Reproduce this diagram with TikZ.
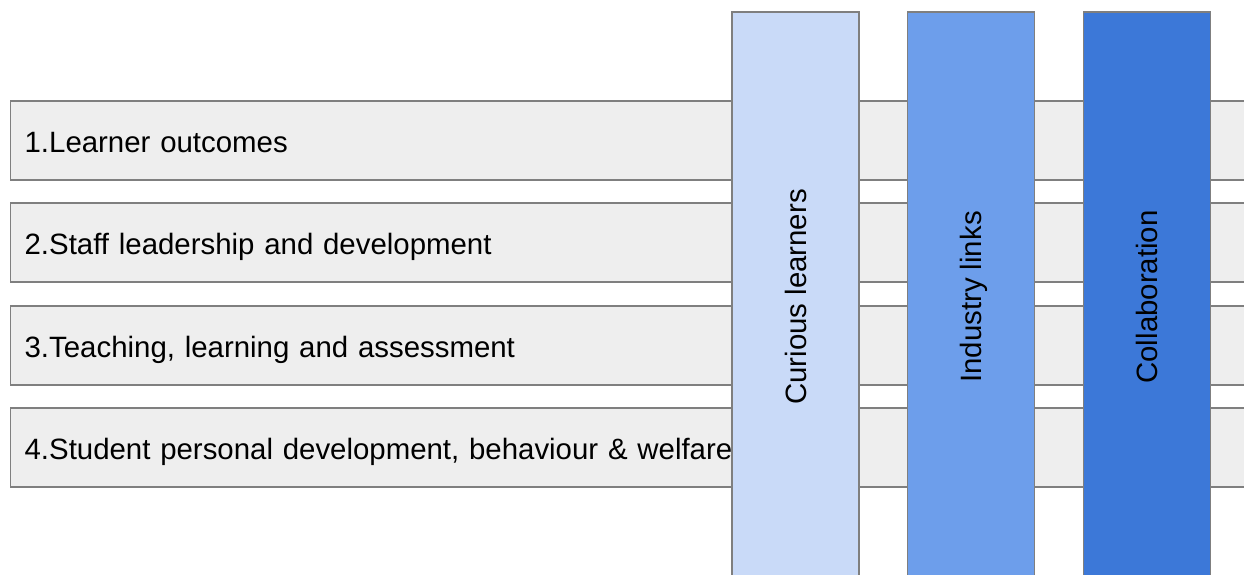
\documentclass[tikz,border=0pt]{standalone}
\usepackage{fontspec}
\setmainfont{Liberation Sans}
\definecolor{rowfill}{HTML}{EEEEEE}
\definecolor{edgegray}{HTML}{7F7F7F}
\definecolor{blueA}{HTML}{C9DAF8}
\definecolor{blueB}{HTML}{6D9EEB}
\definecolor{blueC}{HTML}{3C78D8}
\begin{document}
\begin{tikzpicture}[x=1pt,y=1pt,
  txt/.style={font=\fontsize{29.4}{35}\selectfont},
  rowbar/.style={txt, text height=25pt, text depth=0pt,
    draw=edgegray, fill=rowfill, line width=1.3pt,
    minimum height=79pt, text width=1240pt, inner xsep=14pt, inner ysep=0pt,
    align=left, anchor=west},
  colbar/.style={txt, text height=21pt, text depth=0pt,
    draw=edgegray, line width=1.3pt, rotate=90,
    minimum width=570pt, minimum height=127pt, inner sep=0pt, anchor=center}]
\useasboundingbox (0,0) rectangle (1244,575);
\clip (0,0) rectangle (1244,575);
\fill[white] (0,0) rectangle (1244,575);
% four horizontal rows, running off the right edge
\node[rowbar] (r1) at (10,434.5) {1.Learner outcomes};
\node[rowbar] (r2) at (10,332.5) {2.Staff leadership and development};
\node[rowbar] (r3) at (10,229.5) {3.Teaching, learning and assessment};
\node[rowbar] (r4) at (10,127.5) {4.Student personal development, behaviour \& welfare};
% three vertical columns crossing the rows
\node[colbar, fill=blueA] (c1) at (795.5,278) {Curious learners};
\node[colbar, fill=blueB] (c2) at (971,278) {Industry links};
\node[colbar, fill=blueC] (c3) at (1147,278) {Collaboration};
\end{tikzpicture}
\end{document}
